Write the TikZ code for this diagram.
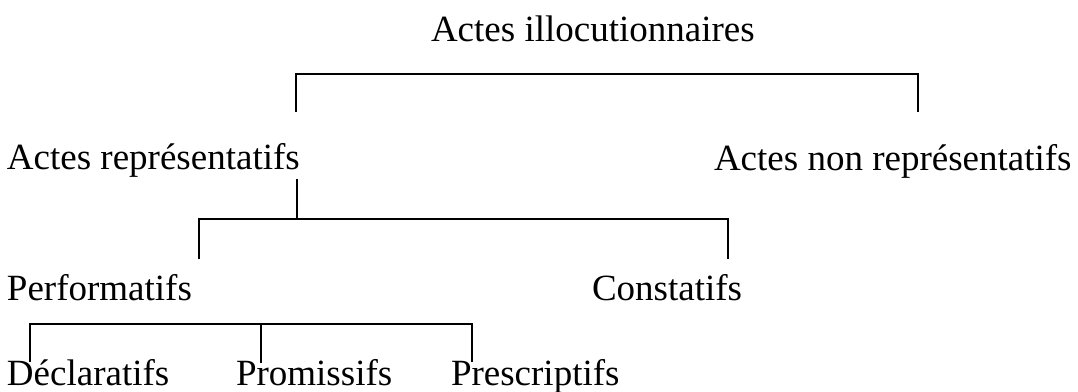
\documentclass[tikz,border=0pt]{standalone}
\usepackage{fontspec}
\setmainfont{Liberation Serif}
\begin{document}
\begin{tikzpicture}[x=0.75pt,y=-0.75pt,
  lbl/.style={anchor=base west,inner sep=0pt,outer sep=0pt,font=\fontsize{27.75}{33}\selectfont},
  br/.style={line width=1.2pt,black}]
\useasboundingbox (0,0) rectangle (1078,392);
% texts
\node[lbl] (t)  at (431,42)  {Actes illocutionnaires};
\node[lbl] (r)  at (7,170)   {Actes représentatifs};
\node[lbl] (n)  at (714,171) {Actes non représentatifs};
\node[lbl] (p)  at (7,300)   {Performatifs};
\node[lbl] (c)  at (592,300) {Constatifs};
\node[lbl] (d)  at (7,385)   {Déclaratifs};
\node[lbl] (pm) at (236,385) {Promissifs};
\node[lbl] (ps) at (451,385) {Prescriptifs};
% bracket 1
\coordinate (a1) at (296,112);
\coordinate (a2) at (296,74);
\coordinate (a3) at (918,74);
\coordinate (a4) at (918,112);
\draw[br] (a1) -- (a2) -- (a3) -- (a4);
% bracket 2
\coordinate (b0) at (297,179);
\coordinate (bj) at (297,219);
\coordinate (b1) at (199,259);
\coordinate (b2) at (199,219);
\coordinate (b3) at (728,219);
\coordinate (b4) at (728,259);
\draw[br] (b0) -- (bj);
\draw[br] (b1) -- (b2) -- (b3) -- (b4);
% bracket 3
\coordinate (c1) at (30,362);
\coordinate (c2) at (30,324);
\coordinate (c3) at (472,324);
\coordinate (c4) at (472,362);
\coordinate (cm) at (261,324);
\coordinate (cb) at (261,363);
\draw[br] (c1) -- (c2) -- (c3) -- (c4);
\draw[br] (cm) -- (cb);
\end{tikzpicture}
\end{document}
